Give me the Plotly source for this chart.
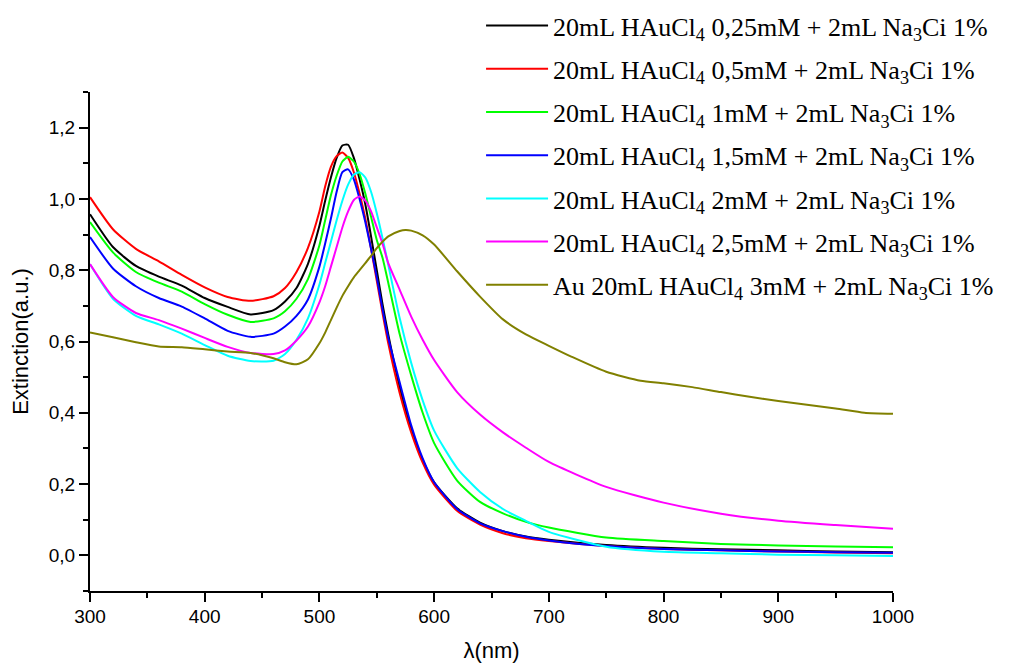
import plotly.graph_objects as go

# wavelength grid (nm) for the six citrate series
wl = [300, 320, 340, 360, 380, 400, 420, 440, 460, 470, 480, 490, 500, 505, 510, 515,
      520, 525, 530, 535, 540, 545, 550, 555, 560, 570, 580, 590, 600, 620, 640, 660,
      680, 700, 750, 800, 850, 900, 950, 1000]

ext_025 = [0.957, 0.865, 0.812, 0.782, 0.757, 0.722, 0.697, 0.676, 0.688, 0.712, 0.750, 0.818,
           0.925, 0.995, 1.060, 1.115, 1.150, 1.152, 1.115, 1.055, 0.985, 0.895, 0.800, 0.705,
           0.620, 0.470, 0.355, 0.268, 0.205, 0.132, 0.092, 0.068, 0.053, 0.044, 0.029, 0.021,
           0.017, 0.014, 0.011, 0.009]
ext_05 = [1.005, 0.915, 0.860, 0.825, 0.787, 0.752, 0.725, 0.714, 0.727, 0.750, 0.795, 0.863,
          0.965, 1.035, 1.090, 1.120, 1.130, 1.115, 1.075, 1.015, 0.945, 0.860, 0.770, 0.680,
          0.595, 0.455, 0.345, 0.260, 0.198, 0.125, 0.086, 0.062, 0.048, 0.040, 0.026, 0.018,
          0.014, 0.011, 0.008, 0.006]
ext_1 = [0.935, 0.850, 0.795, 0.765, 0.740, 0.705, 0.675, 0.655, 0.665, 0.685, 0.720, 0.775,
         0.870, 0.940, 1.010, 1.065, 1.105, 1.118, 1.105, 1.070, 1.015, 0.950, 0.885, 0.835,
         0.765, 0.620, 0.505, 0.400, 0.315, 0.210, 0.150, 0.118, 0.094, 0.078, 0.050, 0.040,
         0.032, 0.028, 0.025, 0.023]
ext_15 = [0.893, 0.805, 0.755, 0.722, 0.698, 0.665, 0.630, 0.613, 0.622, 0.642, 0.672, 0.718,
          0.810, 0.875, 0.945, 1.020, 1.075, 1.083, 1.055, 1.000, 0.935, 0.860, 0.780, 0.690,
          0.610, 0.485, 0.365, 0.272, 0.205, 0.130, 0.090, 0.068, 0.052, 0.042, 0.026, 0.018,
          0.014, 0.011, 0.009, 0.007]
ext_2 = [0.817, 0.720, 0.672, 0.648, 0.622, 0.590, 0.560, 0.545, 0.546, 0.565, 0.605, 0.665,
         0.760, 0.820, 0.880, 0.940, 0.995, 1.040, 1.068, 1.075, 1.060, 1.020, 0.960, 0.890,
         0.815, 0.665, 0.540, 0.435, 0.350, 0.245, 0.178, 0.130, 0.097, 0.066, 0.024, 0.010,
         0.006, 0.002, 0.000, -0.002]
ext_25 = [0.817, 0.725, 0.680, 0.660, 0.636, 0.610, 0.585, 0.568, 0.565, 0.575, 0.603, 0.642,
          0.710, 0.755, 0.810, 0.865, 0.920, 0.965, 0.997, 1.007, 0.995, 0.965, 0.920, 0.875,
          0.820, 0.745, 0.670, 0.605, 0.548, 0.458, 0.395, 0.345, 0.302, 0.262, 0.192, 0.148,
          0.117, 0.097, 0.085, 0.075]

# wavelength grid (nm) and values for the 3 mM series
wl_3 = [300, 320, 340, 360, 380, 400, 420, 440, 460, 470, 480, 490, 500, 505, 510, 515, 520,
        525, 530, 535, 540, 545, 550, 555, 560, 570, 575, 580, 590, 600, 620, 640, 660, 680,
        700, 720, 750, 780, 800, 825, 850, 875, 900, 950, 975, 1000]
ext_3 = [0.625, 0.612, 0.598, 0.586, 0.584, 0.578, 0.572, 0.568, 0.553, 0.542, 0.536, 0.550,
         0.595, 0.625, 0.660, 0.695, 0.728, 0.755, 0.780, 0.800, 0.820, 0.840, 0.862, 0.880,
         0.895, 0.910, 0.913, 0.911, 0.898, 0.872, 0.797, 0.726, 0.662, 0.620, 0.588, 0.557,
         0.515, 0.490, 0.483, 0.472, 0.458, 0.445, 0.433, 0.412, 0.400, 0.397]

names = [
    "20mL HAuCl<sub>4</sub> 0,25mM + 2mL Na<sub>3</sub>Ci 1%",
    "20mL HAuCl<sub>4</sub> 0,5mM + 2mL Na<sub>3</sub>Ci 1%",
    "20mL HAuCl<sub>4</sub> 1mM + 2mL Na<sub>3</sub>Ci 1%",
    "20mL HAuCl<sub>4</sub> 1,5mM + 2mL Na<sub>3</sub>Ci 1%",
    "20mL HAuCl<sub>4</sub> 2mM + 2mL Na<sub>3</sub>Ci 1%",
    "20mL HAuCl<sub>4</sub> 2,5mM + 2mL Na<sub>3</sub>Ci 1%",
    "Au 20mL HAuCl<sub>4</sub> 3mM + 2mL Na<sub>3</sub>Ci 1%",
]
colors = ["#000000", "#FF0000", "#00FF00", "#0000FF", "#00FFFF", "#FF00FF", "#808000"]

x_ticks = [300, 400, 500, 600, 700, 800, 900, 1000]
x_tick_labels = ["300", "400", "500", "600", "700", "800", "900", "1000"]
y_ticks = [0.0, 0.2, 0.4, 0.6, 0.8, 1.0, 1.2]
y_tick_labels = ["0,0", "0,2", "0,4", "0,6", "0,8", "1,0", "1,2"]

series_x = [wl, wl, wl, wl, wl, wl, wl_3]
series_y = [ext_025, ext_05, ext_1, ext_15, ext_2, ext_25, ext_3]

fig = go.Figure()
for i in range(7):
    fig.add_trace(go.Scatter(
        x=series_x[i], y=series_y[i], mode="lines", name=names[i],
        line=dict(color=colors[i], width=2, shape="spline", smoothing=0.6),
        legendgroup=str(i),
    ))

axis_font = dict(family="Liberation Sans, Arial", size=19, color="#000000")
title_font = dict(family="Liberation Sans, Arial", size=22, color="#000000")
fig.update_layout(
    width=1030, height=663,
    margin=dict(l=90, r=137, t=92, b=72, autoexpand=False),
    paper_bgcolor="white", plot_bgcolor="white",
    showlegend=True,
    legend=dict(
        x=0.487, y=1.18, xanchor="left", yanchor="top",
        font=dict(family="Liberation Serif, Times New Roman", size=26, color="#000000"),
        bgcolor="rgba(0,0,0,0)", itemwidth=62, tracegroupgap=6.4,
    ),
    xaxis=dict(
        range=[300, 1000], showline=True, linecolor="black", linewidth=2,
        showgrid=False, zeroline=False, mirror=False, automargin=False,
        tickmode="array", tickvals=x_ticks, ticktext=x_tick_labels,
        ticks="outside", ticklen=9, tickwidth=2, tickcolor="black",
        minor=dict(ticks="outside", ticklen=5, tickwidth=2, tickcolor="black", dtick=50, tick0=300),
        tickfont=axis_font, ticklabelstandoff=-2,
        title=dict(text="λ(nm)", font=title_font, standoff=18),
    ),
    yaxis=dict(
        range=[-0.1, 1.3], showline=True, linecolor="black", linewidth=2,
        showgrid=False, zeroline=False, mirror=False, automargin=False,
        tickmode="array", tickvals=y_ticks, ticktext=y_tick_labels,
        ticks="outside", ticklen=9, tickwidth=2, tickcolor="black",
        minor=dict(ticks="outside", ticklen=5, tickwidth=2, tickcolor="black", dtick=0.1, tick0=0),
        tickfont=axis_font,
        title=dict(text="Extinction(a.u.)", font=title_font, standoff=14),
    ),
)

fig.write_html("out.html", config={"displayModeBar": False},
               post_script="document.body.style.margin='0';")
